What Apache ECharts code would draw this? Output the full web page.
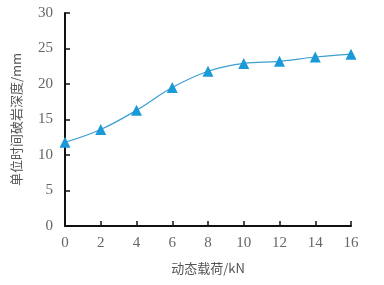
<!DOCTYPE html>
<html><head><meta charset="utf-8">
<script src="https://cdn.jsdelivr.net/npm/echarts@6/dist/echarts.min.js"></script>
<style>html,body{margin:0;padding:0;background:#fff}#c{width:384px;height:285px}</style>
</head><body><div id="c"></div>
<script>
const loads = [0, 2, 4, 6, 8, 10, 12, 14, 16];
const depths = [11.8, 13.6, 16.3, 19.5, 21.8, 22.9, 23.2, 23.8, 24.2];
const xName = '动态载荷/kN';
const yName = '单位时间破岩深度/mm';
const chart = echarts.init(document.getElementById('c'));
const lbl = {color:'#666', fontFamily:'Liberation Serif', fontSize:15};
chart.setOption({
  animation:false,
  grid:{left:65, right:33, top:13, bottom:59},
  xAxis:{type:'value', min:0, max:16, interval:2,
    name:xName, nameLocation:'middle', nameGap:36,
    nameTextStyle:{color:'#555', fontFamily:'Noto Sans CJK SC', fontSize:13},
    axisLine:{lineStyle:{color:'#111', width:2}},
    axisTick:{inside:true, length:5, lineStyle:{color:'#111', width:1.5}},
    axisLabel:Object.assign({margin:10}, lbl),
    splitLine:{show:false}},
  yAxis:{type:'value', min:0, max:30, interval:5,
    name:yName, nameLocation:'middle', nameGap:42,
    nameTextStyle:{color:'#555', fontFamily:'Noto Sans CJK SC', fontSize:13},
    axisLine:{show:true, lineStyle:{color:'#111', width:2}},
    axisTick:{show:true, inside:true, length:5, lineStyle:{color:'#111', width:1.5}},
    axisLabel:Object.assign({margin:12}, lbl),
    splitLine:{show:false}},
  series:[{type:'line', data:loads.map((x,i)=>[x, depths[i]]), smooth:0.4,
    symbol:'triangle', symbolSize:11,
    lineStyle:{color:'#3d9fd2', width:1.2},
    itemStyle:{color:'#1a9bd7'}}]
});
</script></body></html>
